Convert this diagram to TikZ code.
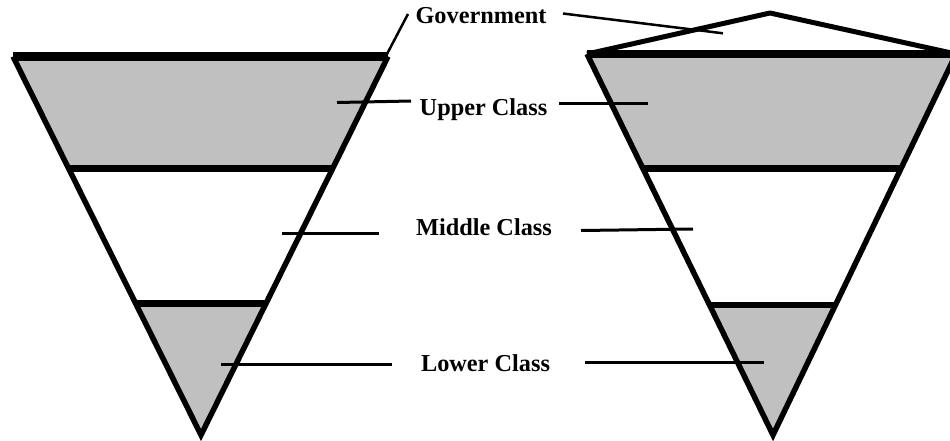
\documentclass[tikz,border=0pt]{standalone}
\usepackage{fontspec}
\setmainfont{Liberation Serif}
\definecolor{bandgray}{HTML}{C0C0C0}
\begin{document}
\begin{tikzpicture}[x=1pt,y=-1pt,
  band/.style={fill=bandgray},
  edge/.style={line width=5.5pt, line join=miter},
  divider/.style={line width=6.5pt},
  topline/.style={line width=9pt},
  roof/.style={line width=5pt, line join=round},
  leader/.style={line width=3pt},
  govleader/.style={line width=2.5pt},
  lbl/.style={font=\fontsize{24.3}{28}\selectfont\bfseries, anchor=base, inner sep=0pt}]
\useasboundingbox (0,0) rectangle (950,440);
\clip (0,0) rectangle (950,440);
% left triangle
\coordinate (LTL) at (13,56.5);
\coordinate (LTR) at (388,56.5);
\coordinate (LA) at (201,435);
\coordinate (L1l) at (68.8,168.5);
\coordinate (L1r) at (332.5,168.5);
\coordinate (L2l) at (135.8,303.5);
\coordinate (L2r) at (265.9,303.5);
% right triangle
\coordinate (RTL) at (587,54);
\coordinate (RTR) at (956,54);
\coordinate (RA) at (773,435);
\coordinate (RG) at (770,13);
\coordinate (R1l) at (642.9,168.5);
\coordinate (R1r) at (900.9,168.5);
\coordinate (R2l) at (709.5,305);
\coordinate (R2r) at (835.4,305);
% fills
\fill[band] (LTL) -- (LTR) -- (L1r) -- (L1l) -- cycle;
\fill[band] (L2l) -- (L2r) -- (LA) -- cycle;
\fill[band] (RTL) -- (RTR) -- (R1r) -- (R1l) -- cycle;
\fill[band] (R2l) -- (R2r) -- (RA) -- cycle;
% dividers
\draw[divider] (L1l) -- (L1r);
\draw[divider] (L2l) -- (L2r);
\draw[divider] (R1l) -- (R1r);
\draw[divider] (R2l) -- (R2r);
% outlines
\draw[edge] (LTL) -- (LA) -- (LTR);
\draw[edge] (RTL) -- (RA) -- (RTR);
\draw[topline] (LTL) -- (LTR);
\draw[line width=8pt] (RTL) -- (RTR);
\draw[roof] (RTL) -- (RG) -- (RTR);
% labels
\node[lbl] (gov) at (481,23.3) {Government};
\node[lbl] (upper) at (483.5,115) {Upper Class};
\node[lbl] (middle) at (484,235) {Middle Class};
\node[lbl] (lower) at (485.5,371.7) {Lower Class};
% leader ends
\coordinate (gL1) at (408,14);
\coordinate (gL2) at (387,54);
\coordinate (gR1) at (563,13.5);
\coordinate (gR2) at (723,33.3);
\coordinate (uL1) at (337,102.5);
\coordinate (uL2) at (411,101);
\coordinate (uR1) at (559,103.5);
\coordinate (uR2) at (648,103.5);
\coordinate (mL1) at (282,233);
\coordinate (mL2) at (379,233);
\coordinate (mR1) at (581,230.5);
\coordinate (mR2) at (693,229);
\coordinate (lL1) at (221,364);
\coordinate (lL2) at (392,364);
\coordinate (lR1) at (585,362.5);
\coordinate (lR2) at (764,362.5);
% leaders
\draw[govleader] (gL1) -- (gL2);
\draw[govleader] (gR1) -- (gR2);
\draw[leader] (uL1) -- (uL2);
\draw[leader] (uR1) -- (uR2);
\draw[leader] (mL1) -- (mL2);
\draw[leader] (mR1) -- (mR2);
\draw[leader] (lL1) -- (lL2);
\draw[leader] (lR1) -- (lR2);
\end{tikzpicture}
\end{document}
